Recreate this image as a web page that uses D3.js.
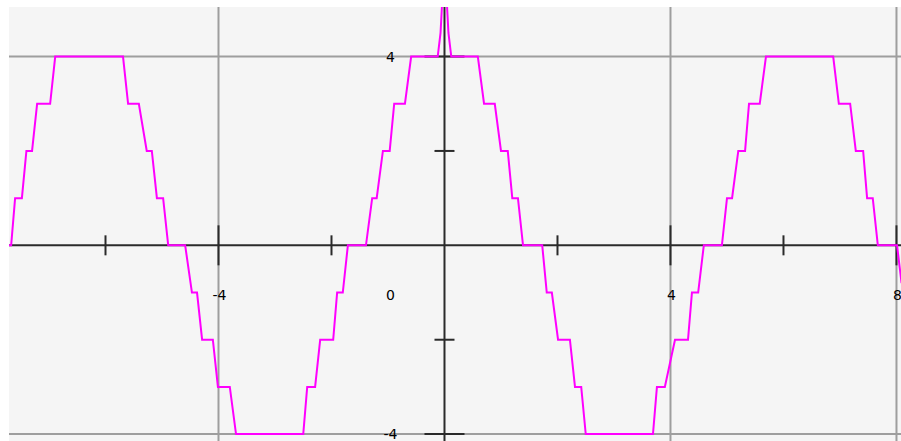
<!DOCTYPE html>
<html>
<head>
<meta charset="utf-8">
<script src="https://cdn.jsdelivr.net/npm/d3@7/dist/d3.min.js"></script>
<style>
  html, body { margin: 0; padding: 0; background: #ffffff; }
  svg { display: block; }
  text { font-family: "DejaVu Sans", Verdana, sans-serif; font-size: 14px; fill: #000; }
</style>
</head>
<body>
<svg id="chart" width="901" height="441"></svg>
<script>
// Stepped wave: vertices (x, y), in graph units
const curveX = [
  -7.71, -7.67, -7.60, -7.48, -7.40, -7.30, -7.21, -6.98, -6.89, -5.69,
  -5.60, -5.41, -5.27, -5.18, -5.09, -4.98, -4.89, -4.59, -4.47, -4.38,
  -4.29, -4.10, -4.01, -3.80, -3.69, -2.50, -2.43, -2.29, -2.20, -1.97,
  -1.90, -1.80, -1.71, -1.39, -1.28, -1.20, -1.09, -0.97, -0.89, -0.70,
  -0.59, -0.12, -0.07, -0.03, 0.03, 0.07, 0.12, 0.59,
  0.70, 0.89, 1.00, 1.12, 1.20, 1.30, 1.39, 1.73, 1.81, 1.90,
  2.01, 2.22, 2.31, 2.42, 2.50, 3.69, 3.76, 3.90, 4.08, 4.31,
  4.38, 4.49, 4.59, 4.91, 5.00, 5.09, 5.20, 5.32, 5.39, 5.58,
  5.69, 6.88, 6.98, 7.18, 7.28, 7.41, 7.48, 7.58, 7.67, 8.01, 8.09
];
const curveY = [
  0, 0, 1, 1, 2, 2, 3, 3, 4, 4,
  3, 3, 2, 2, 1, 1, 0, 0, -1, -1,
  -2, -2, -3, -3, -4, -4, -3, -3, -2, -2,
  -1, -1, 0, 0, 1, 1, 2, 2, 3, 3,
  4, 4, 4.5, 5.4, 5.4, 4.5, 4, 4,
  3, 3, 2, 2, 1, 1, 0, 0, -1, -1,
  -2, -2, -3, -3, -4, -4, -3, -3, -2, -2,
  -1, -1, 0, 0, 1, 1, 2, 2, 3, 3,
  4, 4, 3, 3, 2, 2, 1, 1, 0, 0, -0.8
];

// Axis decorations
const gridX = [-4, 4, 8];
const gridY = [-4, 4];
const majorTicksX = [-4, 4, 8];
const minorTicksX = [-6, -2, 2, 6];
const majorTicksY = [-4, 4];
const minorTicksY = [-2, 2];
const xTickLabels = ["-4", "4", "8"];
const xTickValues = [-4, 4, 8];
const yTickLabels = ["4", "-4"];
const yTickValues = [4, -4];
const originLabel = "0";

const svg = d3.select("#chart");
const plot = { left: 9, top: 7, right: 901, bottom: 441 };

const x = d3.scaleLinear().domain([-7.708, 8.080]).range([plot.left, plot.right]);
const y = d3.scaleLinear().domain([5.05, -4.146]).range([plot.top, plot.bottom]);

svg.append("defs").append("clipPath").attr("id", "clip")
  .append("rect")
  .attr("x", plot.left).attr("y", plot.top)
  .attr("width", plot.right - plot.left).attr("height", plot.bottom - plot.top);

// plot background
svg.append("rect")
  .attr("x", plot.left).attr("y", plot.top)
  .attr("width", plot.right - plot.left).attr("height", plot.bottom - plot.top)
  .attr("fill", "#f5f5f5");

const g = svg.append("g").attr("clip-path", "url(#clip)");

// grid lines
g.selectAll("line.gx").data(gridX).join("line")
  .attr("class", "gx")
  .attr("x1", d => x(d)).attr("x2", d => x(d))
  .attr("y1", plot.top).attr("y2", plot.bottom)
  .attr("stroke", "#9e9e9e").attr("stroke-width", 2);
g.selectAll("line.gy").data(gridY).join("line")
  .attr("class", "gy")
  .attr("y1", d => y(d)).attr("y2", d => y(d))
  .attr("x1", plot.left).attr("x2", plot.right)
  .attr("stroke", "#9e9e9e").attr("stroke-width", 2);

// axes through the origin
g.append("line")
  .attr("x1", plot.left).attr("x2", plot.right)
  .attr("y1", y(0)).attr("y2", y(0))
  .attr("stroke", "#2a2a2a").attr("stroke-width", 2);
g.append("line")
  .attr("x1", x(0)).attr("x2", x(0))
  .attr("y1", plot.top).attr("y2", plot.bottom)
  .attr("stroke", "#2a2a2a").attr("stroke-width", 2);

// tick marks
const major = 20, minor = 10;
g.selectAll("line.tmx").data(majorTicksX).join("line")
  .attr("x1", d => x(d)).attr("x2", d => x(d))
  .attr("y1", y(0) - major).attr("y2", y(0) + major)
  .attr("stroke", "#2a2a2a").attr("stroke-width", 2);
g.selectAll("line.tnx").data(minorTicksX).join("line")
  .attr("x1", d => x(d)).attr("x2", d => x(d))
  .attr("y1", y(0) - minor).attr("y2", y(0) + minor)
  .attr("stroke", "#2a2a2a").attr("stroke-width", 2);
g.selectAll("line.tmy").data(majorTicksY).join("line")
  .attr("y1", d => y(d)).attr("y2", d => y(d))
  .attr("x1", x(0) - major).attr("x2", x(0) + major)
  .attr("stroke", "#2a2a2a").attr("stroke-width", 2);
g.selectAll("line.tny").data(minorTicksY).join("line")
  .attr("y1", d => y(d)).attr("y2", d => y(d))
  .attr("x1", x(0) - minor).attr("x2", x(0) + minor)
  .attr("stroke", "#2a2a2a").attr("stroke-width", 2);

// the stepped curve
const pts = curveX.map((v, i) => [v, curveY[i]]);
g.append("path")
  .datum(pts)
  .attr("d", d3.line().x(d => x(d[0])).y(d => y(d[1])))
  .attr("fill", "none")
  .attr("stroke", "#ff00ff")
  .attr("stroke-width", 2)
  .attr("stroke-linejoin", "miter");

// labels
const labelColumn = x(0) - 54;
const labelRow = y(0) + 55;
svg.selectAll("text.xl").data(xTickValues).join("text")
  .attr("x", d => x(d) + 1).attr("y", labelRow)
  .attr("text-anchor", "middle")
  .text((d, i) => xTickLabels[i]);
svg.selectAll("text.yl").data(yTickValues).join("text")
  .attr("x", labelColumn).attr("y", d => y(d) + 5)
  .attr("text-anchor", "middle")
  .text((d, i) => yTickLabels[i]);
svg.append("text")
  .attr("x", labelColumn).attr("y", labelRow)
  .attr("text-anchor", "middle")
  .text(originLabel);
</script>
</body>
</html>
